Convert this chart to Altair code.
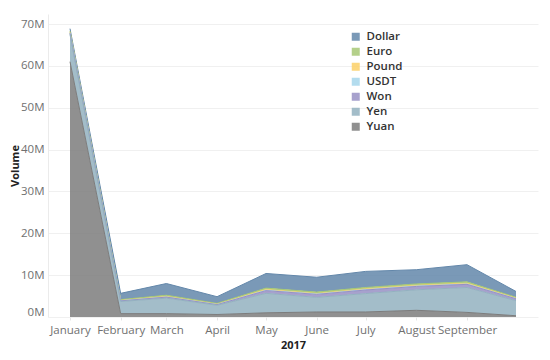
import altair as alt
import pandas as pd

months = ["2017-01-01", "2017-02-01", "2017-03-01", "2017-04-01", "2017-05-01",
          "2017-06-01", "2017-07-01", "2017-08-01", "2017-09-01", "2017-10-01"]
currencies = ["Dollar", "Euro", "Pound", "USDT", "Won", "Yen", "Yuan"]
colors = ["#6387aa", "#a7c875", "#fcd067", "#a6d6eb", "#9890c4", "#93b1c0", "#7c7c7c"]

# volumes in millions
dollar = [0.6, 1.5, 2.8, 1.6, 3.5, 3.55, 3.85, 3.4, 4.1, 1.4]
euro = [0.3, 0.2, 0.3, 0.2, 0.35, 0.35, 0.35, 0.35, 0.35, 0.2]
pound = [0.1, 0.05, 0.1, 0.05, 0.15, 0.1, 0.15, 0.15, 0.15, 0.1]
usdt = [0.1, 0.05, 0.05, 0.05, 0.1, 0.1, 0.1, 0.1, 0.1, 0.05]
won = [0.3, 0.15, 0.25, 0.15, 0.65, 0.7, 0.85, 0.8, 0.75, 0.45]
yen = [6.5, 2.9, 3.7, 2.2, 4.65, 3.5, 4.4, 4.9, 5.95, 3.6]
yuan = [61.0, 0.8, 0.8, 0.6, 1.0, 1.2, 1.2, 1.6, 1.1, 0.3]

series = {"Dollar": dollar, "Euro": euro, "Pound": pound, "USDT": usdt,
          "Won": won, "Yen": yen, "Yuan": yuan}

rows = []
for cur, vals in series.items():
    for m, v in zip(months, vals):
        rows.append({"month": m, "currency": cur, "volume": v,
                     "stack": len(currencies) - 1 - currencies.index(cur)})
df = pd.DataFrame(rows)

tick_dates = [alt.DateTime(year=2017, month=i, date=1, utc=True) for i in range(1, 10)]

chart = alt.Chart(df).mark_area(
    fillOpacity=0.85,
    line={"strokeWidth": 1},
).encode(
    x=alt.X("month:T",
            scale=alt.Scale(type="utc", padding=22, nice=False),
            axis=alt.Axis(title="2017", values=tick_dates, format="%B",
                          formatType="time", grid=False, domain=False,
                          ticks=True, tickColor="#e6e6e6", tickSize=3,
                          labelFlush=False, labelOverlap=False,
                          labelColor="#707070", labelFontSize=11.5,
                          labelPadding=4, titlePadding=4,
                          titleFontSize=11, titleFontWeight="bold",
                          titleColor="#222")),
    y=alt.Y("volume:Q", stack="zero",
            scale=alt.Scale(domain=[0, 72.4], nice=False, zero=True),
            axis=alt.Axis(title="Volume", values=[0, 10, 20, 30, 40, 50, 60, 70],
                          labelExpr="datum.value + 'M'",
                          grid=True, gridColor="#f0f0f0", domain=True,
                          domainColor="#ebebeb", ticks=False,
                          labelFlush=True, labelColor="#707070",
                          labelFontSize=11.5, labelPadding=4,
                          titlePadding=0, titleFontSize=11,
                          titleFontWeight="bold", titleColor="#222")),
    color=alt.Color("currency:N",
                    scale=alt.Scale(domain=currencies, range=colors),
                    legend=alt.Legend(title=None, orient="none", legendX=302,
                                      legendY=17, padding=0,
                                      symbolType="square", symbolSize=64,
                                      symbolStrokeWidth=0, symbolOpacity=0.85,
                                      labelFontSize=11.5, labelColor="#333",
                                      labelFontWeight=600,
                                      labelOffset=5, rowPadding=2)),
    order=alt.Order("stack:Q", sort="ascending"),
).properties(
    width=490,
    height=303,
    autosize=alt.AutoSizeParams(type="none"),
    padding={"left": 40, "top": 6, "right": 4, "bottom": 35},
).configure(
    font="Open Sans",
).configure_view(
    stroke=None,
)

chart.save("out.html", embed_options={"renderer": "svg", "actions": False})
